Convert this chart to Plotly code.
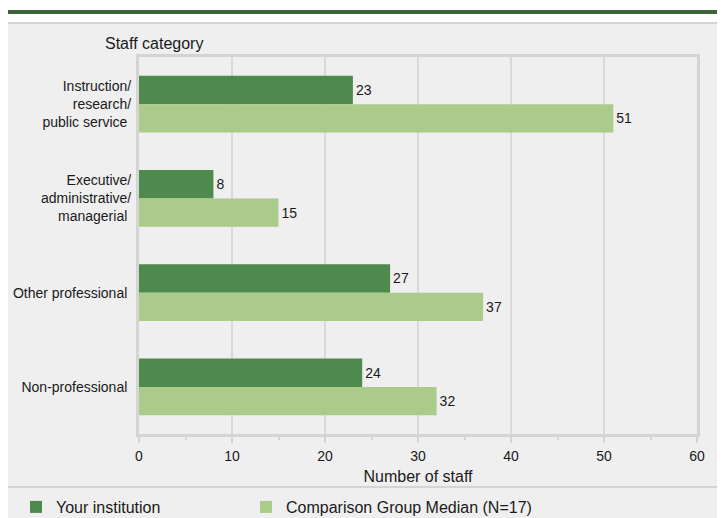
import plotly.graph_objects as go

categories = ["Instruction/<br>research/<br>public service",
              "Executive/<br>administrative/<br>managerial",
              "Other professional",
              "Non-professional"]
your_institution = [23, 8, 27, 24]
comparison_median = [51, 15, 37, 32]
series_names = ["Your institution", "Comparison Group Median (N=17)"]
x_ticks = [0, 10, 20, 30, 40, 50, 60]

OFF = 8  # page body margin
SW, SH = 725, 518
W, H = SW - OFF, SH - OFF
S_L, S_R, S_T, S_B = 139, 697, 57, 434
L, T = S_L - OFF, S_T - OFF
R = W - (S_R - OFF)
B = H - (S_B - OFF)
pw, ph = W - L - R, H - T - B

def px(sx):
    return (sx - OFF - L) / pw

def py(sy):
    return (H - B - (sy - OFF)) / ph

DARK = "#4e8a4e"
LIGHT = "#aacb8a"
BG = "#efefef"
BORDER = "#d4d4d4"
GRID = "#d9d9d9"
FONT = "Liberation Sans, Arial, sans-serif"
TXT = "#1a1a1a"

fig = go.Figure()
fig.add_trace(go.Bar(
    y=categories, x=your_institution, orientation="h", name=series_names[0],
    marker=dict(color=DARK, line=dict(width=0)),
    text=your_institution, textposition="outside",
    textfont=dict(size=14, color=TXT), cliponaxis=False, legend="legend",
))
fig.add_trace(go.Bar(
    y=categories, x=comparison_median, orientation="h", name=series_names[1],
    marker=dict(color=LIGHT, line=dict(width=0)),
    text=comparison_median, textposition="outside",
    textfont=dict(size=14, color=TXT), cliponaxis=False, legend="legend2",
))

shapes = [
    dict(type="rect", xref="paper", yref="paper", x0=px(7), x1=px(SW + 5), y0=py(14), y1=py(10),
         fillcolor="#3b6337", line=dict(width=0), layer="below"),
    dict(type="rect", xref="paper", yref="paper", x0=px(7), x1=px(SW + 5), y0=py(SH + 5), y1=py(23),
         fillcolor=BG, line=dict(color=BORDER, width=2), layer="below"),
    dict(type="line", xref="paper", yref="paper", x0=px(7), x1=px(SW + 5), y0=py(487), y1=py(487),
         line=dict(color=BORDER, width=2), layer="below"),
]

leg_common = dict(orientation="h", xanchor="left", yanchor="middle",
                  font=dict(size=16, color=TXT), bgcolor="rgba(0,0,0,0)", borderwidth=0)

fig.update_layout(
    width=W, height=H,
    margin=dict(l=L, r=R, t=T, b=B, autoexpand=False),
    paper_bgcolor="white", plot_bgcolor=BG,
    barmode="group", bargap=0.4, bargroupgap=0,
    font=dict(family=FONT, size=14, color=TXT),
    shapes=shapes,
    showlegend=True,
    legend=dict(x=px(16), y=py(507), **leg_common),
    legend2=dict(x=px(246), y=py(507), **leg_common),
    annotations=[dict(text="Staff category", xref="paper", yref="paper", x=px(103), y=py(43),
                      xanchor="left", yanchor="middle", showarrow=False,
                      font=dict(size=16, color=TXT))],
)

fig.update_xaxes(
    range=[0, 60], tickvals=x_ticks, showgrid=True, gridcolor=GRID, gridwidth=2,
    showline=True, linecolor=BORDER, linewidth=3, mirror=True,
    ticks="outside", ticklen=6, tickcolor=BORDER, tickwidth=2,
    minor=dict(dtick=5, ticks="outside", ticklen=3, tickcolor=BORDER, tickwidth=2, showgrid=False),
    tickfont=dict(size=14), zeroline=False, ticklabelstandoff=1, automargin=False,
    title=dict(text="Number of staff", font=dict(size=16), standoff=9),
)
fig.update_yaxes(
    autorange="reversed", showline=True, linecolor=BORDER, linewidth=3, mirror=True,
    ticks="", ticksuffix=" ", ticklabelstandoff=2, tickfont=dict(size=14),
    showgrid=False, automargin=False,
)

fig.write_html("out.html")
